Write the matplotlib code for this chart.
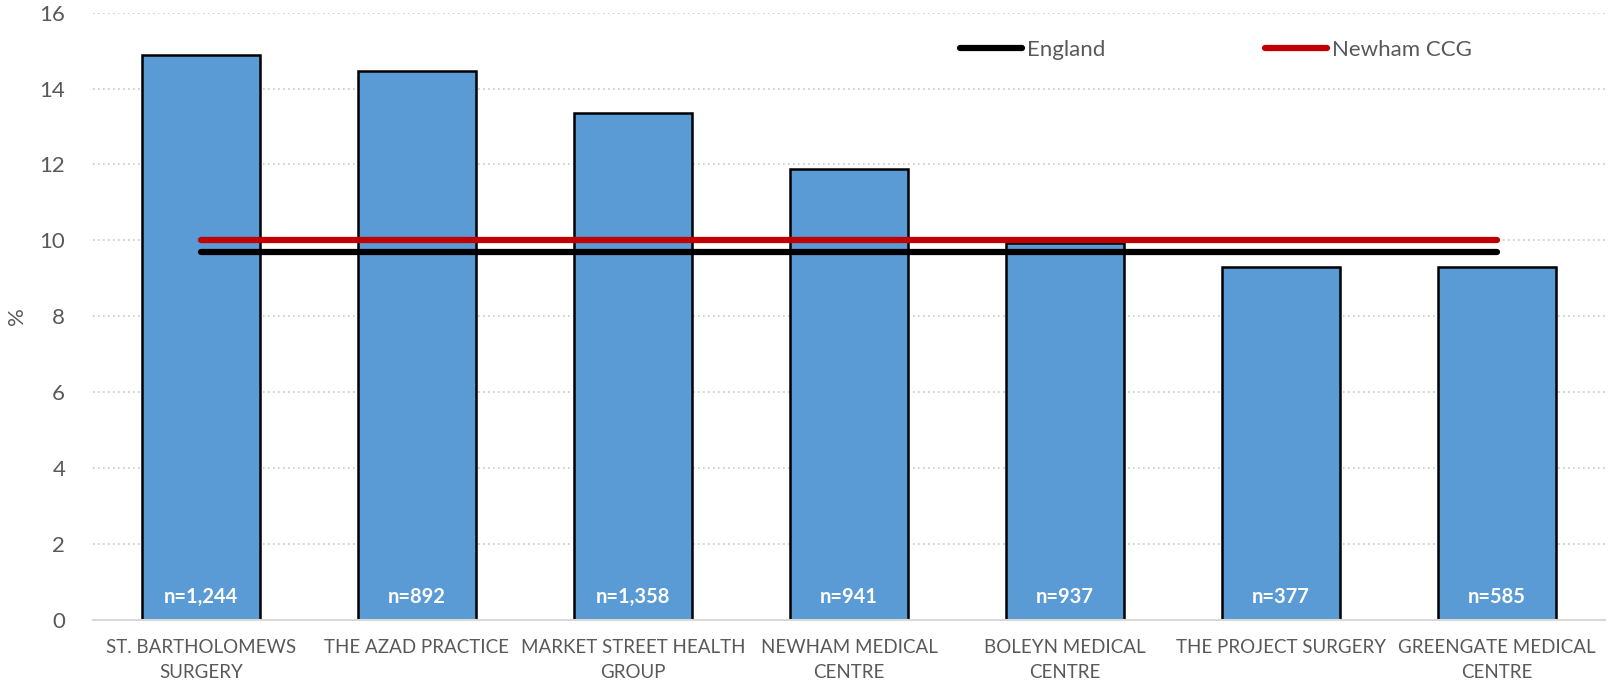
import numpy as np
import matplotlib.pyplot as plt

# Data
practices = ['ST. BARTHOLOMEWS\nSURGERY', 'THE AZAD PRACTICE', 'MARKET STREET HEALTH\nGROUP',
             'NEWHAM MEDICAL\nCENTRE', 'BOLEYN MEDICAL\nCENTRE', 'THE PROJECT SURGERY',
             'GREENGATE MEDICAL\nCENTRE']
percent = [14.87, 14.45, 13.35, 11.87, 9.92, 9.31, 9.31]
n_labels = ['n=1,244', 'n=892', 'n=1,358', 'n=941', 'n=937', 'n=377', 'n=585']
england = [9.7] * 7
newham_ccg = [10.02] * 7

plt.rcParams['font.family'] = ['Lato', 'DejaVu Sans']
grey = '#595959'

fig = plt.figure(figsize=(16.11, 6.84), dpi=100)
ax = fig.add_axes([0.0577, 0.0936, 0.9386, 0.888])

x = np.arange(len(practices))
ax.bar(x, percent, width=0.546, color='#5b9bd5', edgecolor='black', linewidth=1.8, zorder=2)

ax.plot(x, england, color='black', linewidth=4.5, solid_capstyle='round', label='England', zorder=3)
ax.plot(x, newham_ccg, color='#c00000', linewidth=4.5, solid_capstyle='round', label='Newham CCG', zorder=3)

for xi, lab in zip(x, n_labels):
    ax.text(xi, 0.6, lab, ha='center', va='center', color='white', fontsize=14.5,
            fontweight='bold', zorder=4)

ax.set_xlim(-0.5, len(practices) - 0.5)
ax.set_ylim(0, 16)
ax.set_yticks(np.arange(0, 17, 2))
ax.set_xticks(x)
ax.set_xticklabels(practices, fontsize=13.5, color=grey, linespacing=1.55)
ax.tick_params(axis='y', labelsize=16, colors=grey, length=0, pad=20)
ax.tick_params(axis='x', length=0, pad=14)
ax.yaxis.grid(True, linestyle=(0, (1, 2)), color='#c8c8c8', linewidth=1.2, zorder=0)
for s in ['top', 'right', 'left']:
    ax.spines[s].set_visible(False)
ax.spines['bottom'].set_color('#d9d9d9')
ax.spines['bottom'].set_linewidth(1.5)
ax.set_ylabel('%', fontsize=16, color=grey, va='center')
ax.yaxis.set_label_coords(-0.05, 0.5)

ax.legend(loc='center left', bbox_to_anchor=(960 / 1611, 1 - 50 / 684),
          bbox_transform=fig.transFigure, ncol=2, frameon=False, fontsize=16,
          handlelength=2.8, handletextpad=0.2, columnspacing=7.2, borderpad=0,
          borderaxespad=0, labelcolor=grey)

fig.savefig('out.png', dpi=100)
